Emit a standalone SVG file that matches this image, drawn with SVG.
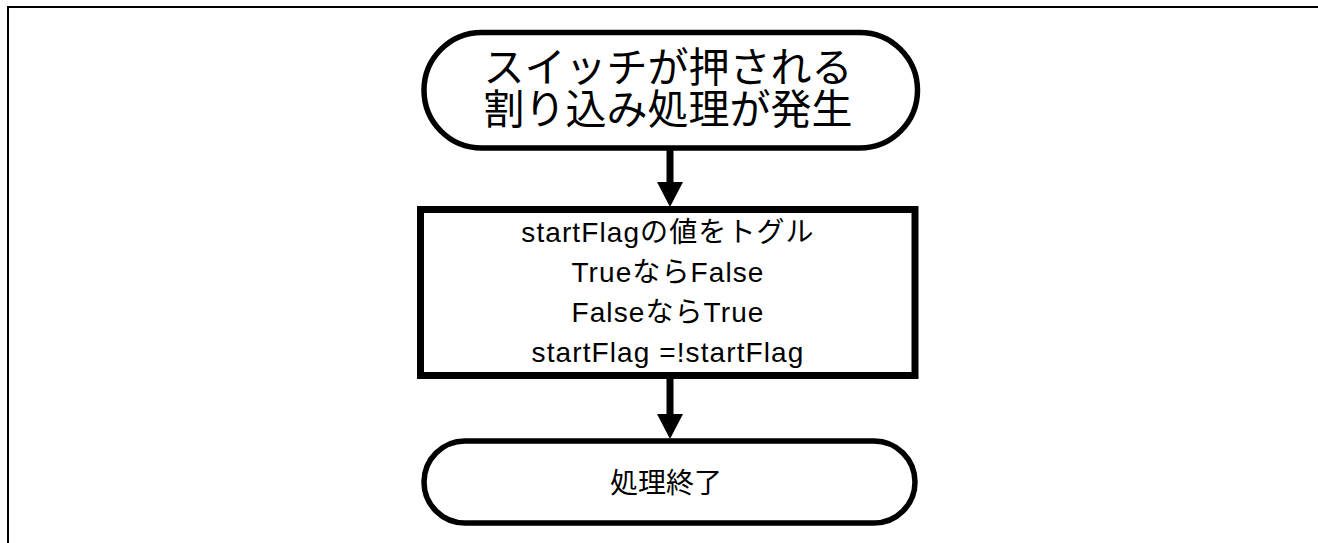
<svg xmlns="http://www.w3.org/2000/svg" width="1318" height="543" viewBox="0 0 1318 543">
<style>
.frame{fill:none;stroke:#000;stroke-width:2}
.term{fill:#fff;stroke:#000;stroke-width:5.5}
.proc{fill:#fff;stroke:#000;stroke-width:7}
.shaft{stroke:#000;stroke-width:7;fill:none}
.head{fill:#000}
text{font-family:"Liberation Sans","Noto Sans CJK JP",sans-serif;fill:#000;text-anchor:middle}
.big{font-size:41px}
.mid{font-size:28px}
.sp{letter-spacing:1.1px}
</style>
<rect width="1318" height="543" fill="#fff"/>
<path class="frame" d="M8,543 V7 H1318"/>
<g id="start">
<rect class="term" x="424" y="32.5" width="493.5" height="115.5" rx="57.75" ry="57.75"/>
<text class="big" x="668" y="82">スイッチが押される</text>
<text class="big" x="668" y="124">割り込み処理が発生</text>
</g>
<g id="toggle">
<rect class="proc" x="420.5" y="209.5" width="494.5" height="166"/>
<text class="mid sp" x="668" y="242">startFlagの値をトグル</text>
<text class="mid sp" x="668" y="282">TrueならFalse</text>
<text class="mid sp" x="668" y="322">FalseならTrue</text>
<text class="mid sp" x="668" y="362">startFlag =!startFlag</text>
</g>
<g id="end">
<rect class="term" x="424" y="441" width="491" height="82" rx="41" ry="41"/>
<text class="mid" x="666" y="493">処理終了</text>
</g>
<g id="connectors">
<line class="shaft" x1="670" y1="150" x2="670" y2="184"/>
<polygon class="head" points="657,182 683,182 670,207"/>
<line class="shaft" x1="670" y1="379" x2="670" y2="416"/>
<polygon class="head" points="657,414 683,414 670,439"/>
</g>
</svg>
